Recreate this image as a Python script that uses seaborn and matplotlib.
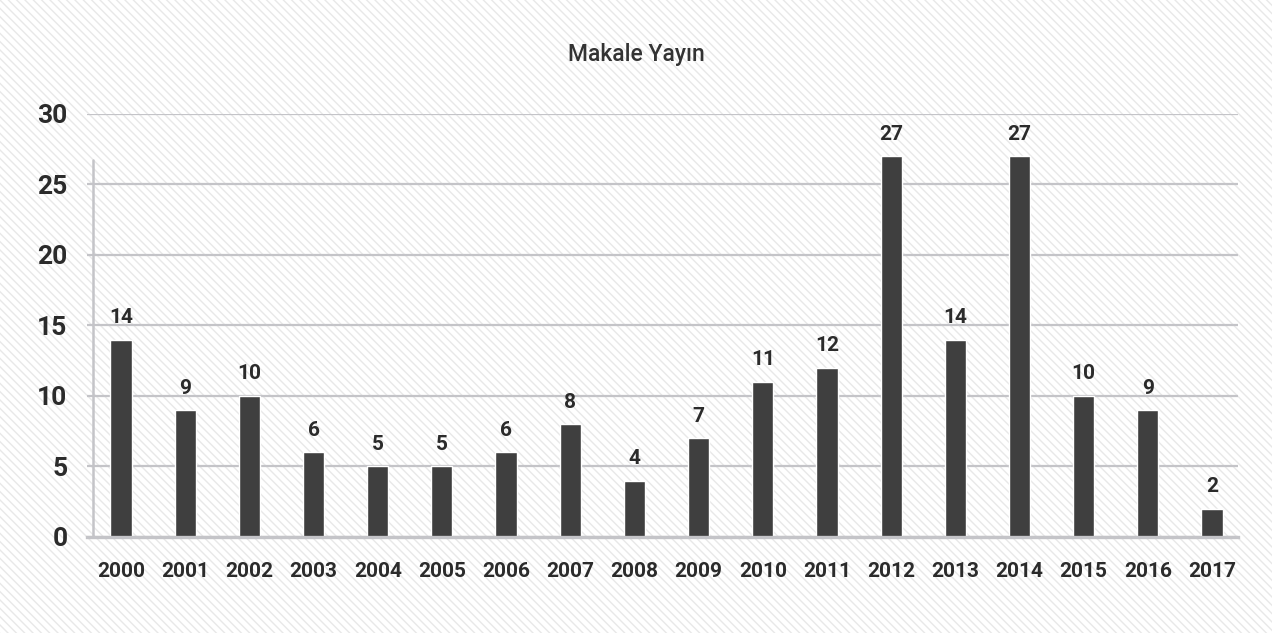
import matplotlib
matplotlib.use("Agg")
import matplotlib.pyplot as plt
import matplotlib.patches as mpatches
import seaborn as sns
import pandas as pd

years = [str(y) for y in range(2000, 2018)]
counts = [14, 9, 10, 6, 5, 5, 6, 8, 4, 7, 11, 12, 27, 14, 27, 10, 9, 2]
title = "Makale Yayın"

df = pd.DataFrame({"year": years, "count": counts})

sns.set_style("white")
plt.rcParams["font.family"] = ["Roboto", "DejaVu Sans"]
plt.rcParams["hatch.linewidth"] = 1.0

fig = plt.figure(figsize=(12.72, 6.33), dpi=100)
fig.patch.set_facecolor("white")
# light diagonal hatch over the whole background
bg = mpatches.Rectangle((0, 0), 1, 1, transform=fig.transFigure, facecolor="white",
                        edgecolor="#e8e8e8", linewidth=0, hatch="\\\\\\\\", zorder=-10)
fig.patches.append(bg)

ax = fig.add_axes([0.0684, 0.1517, 0.9046, 0.6683])
ax.set_facecolor("none")

sns.barplot(data=df, x="year", y="count", color="#3f3f3f", width=0.33,
            saturation=1, ax=ax, zorder=3)

ax.set_ylim(0, 30)
ax.set_xlim(-0.53, 17.4)
ax.set_yticks([0, 5, 10, 15, 20, 25, 30])
ax.yaxis.grid(True, color="#c4c4c8", linewidth=1.6)
ax.set_axisbelow(True)
for s in ["top", "right", "left"]:
    ax.spines[s].set_visible(False)
ax.spines["bottom"].set_color("#c4c4c8")
ax.spines["bottom"].set_linewidth(2.4)
ax.spines["bottom"].set_zorder(4)
ax.axvline(-0.44, ymin=0, ymax=26.7 / 30, color="#c4c4c8", linewidth=1.8, zorder=2)

ax.tick_params(axis="both", length=0)
ax.tick_params(axis="y", pad=14, labelsize=19, labelcolor="#2b2b2b")
ax.tick_params(axis="x", pad=18, labelsize=15, labelcolor="#2b2b2b")
for lbl in ax.get_xticklabels() + ax.get_yticklabels():
    lbl.set_fontweight("bold")
ax.set_xlabel("")
ax.set_ylabel("")

ax.bar_label(ax.containers[0], labels=[str(c) for c in counts], padding=9,
             fontsize=15, fontweight="bold", color="#2b2b2b")

fig.text(0.5, 1 - 55 / 633, title, ha="center", va="center", fontsize=16.5,
         fontweight="medium", color="#333333")

fig.savefig("out.png", dpi=100)
